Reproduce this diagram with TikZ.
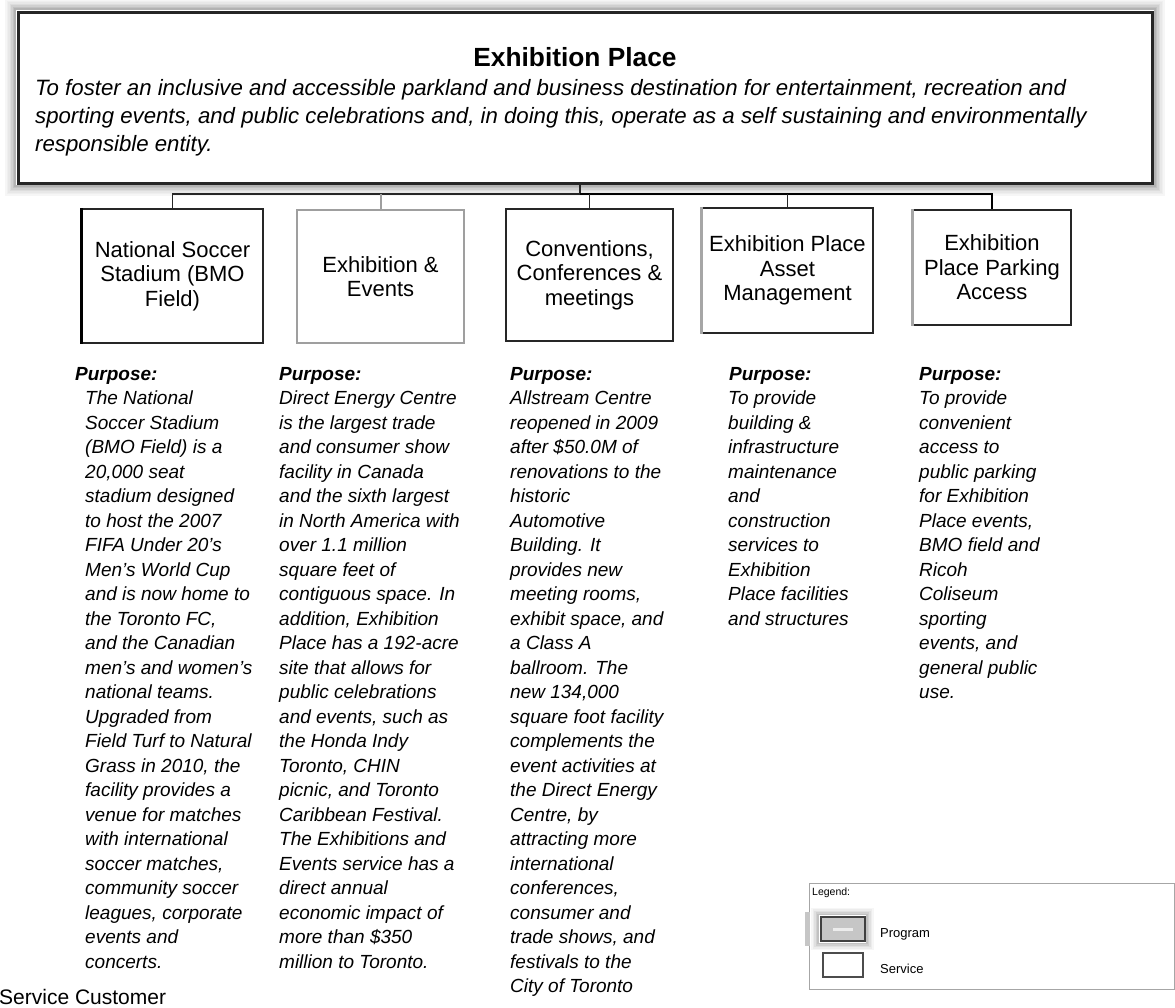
\documentclass[tikz,border=0pt]{standalone}
\usepackage{fontspec}
\setmainfont{Liberation Sans}
\usetikzlibrary{calc}
\newcommand\myfs[2]{\fontsize{#1}{#2}\selectfont}
\tikzset{
 svc/.style={draw=black!85, line width=1.3pt, fill=white, align=center, inner sep=0pt, font=\myfs{22}{24.5}},
 coltext/.style={anchor=north west, inner sep=0pt, align=left, font=\myfs{19}{24.5}\itshape},
 purp/.style={anchor=north west, inner sep=0pt, font=\myfs{19}{24.5}\bfseries\itshape},
 leg/.style={anchor=west, inner sep=0pt, font=\myfs{13}{15}},
 glowline/.style={black!60, line width=1.6pt},
}
\begin{document}
\begin{tikzpicture}[x=1pt,y=-1pt]
\useasboundingbox (0,0) rectangle (1175,1007);
\fill[white] (0,0) rectangle (1175,1007);

% top program box
\node[draw=black!85, line width=3pt, fill=white, minimum width=1134, minimum height=171, inner sep=0pt] (top) at (585,97.5) {};
\foreach \d/\o in {1.5/0.5,3/0.4,4.5/0.3,6/0.22,7.5/0.15,9/0.1,10.5/0.06}
  \draw[glowline, opacity=\o] ($(top.north west)+(-\d,-\d)$) rectangle ($(top.south east)+(\d,\d)$);
\node[anchor=base, inner sep=0pt, font=\myfs{26.3}{30}\bfseries] (title) at (575,66) {Exhibition Place};
\node[anchor=north west, inner sep=0pt, align=left, font=\myfs{22.2}{28}\itshape] (mission) at (35,79)
 {To foster an inclusive and accessible parkland and business destination for entertainment, recreation and\\
  sporting events, and public celebrations and, in doing this, operate as a self sustaining and environmentally\\
  responsible entity.};

% service boxes
\node[svc, minimum width=181, minimum height=134] (b1) at (172.5,276) {National Soccer\\Stadium (BMO\\Field)};
\node[svc, draw=gray!75, line width=2pt, minimum width=167, minimum height=133] (b2) at (380.5,276.5) {Exhibition \&\\Events};
\node[svc, minimum width=167, minimum height=132] (b3) at (589.5,275) {Conventions,\\Conferences \&\\meetings};
\node[svc, minimum width=171, minimum height=125] (b4) at (787.5,270.5) {Exhibition Place\\Asset\\Management};
\node[svc, minimum width=158, minimum height=115] (b5) at (992,267.5) {Exhibition\\Place Parking\\Access};
\draw[black, line width=3pt] (b1.north west) -- (b1.south west);
\draw[gray!70, line width=2.5pt] (b4.north west) -- (b4.south west);
\draw[gray!70, line width=3pt] (b5.north west) -- (b5.south west);

% connectors
\coordinate (j) at (580,194);
\draw[black!85, line width=1.4pt] (j |- top.south) -- (j);
\draw[black!85, line width=1.4pt] (j) -- (j -| b1.north) -- (b1.north);
\draw[black, line width=2.8pt] (j) -- (j -| b5.north) -- (b5.north);
\draw[gray!75, line width=2pt] (j -| b2.north) -- (b2.north);
\draw[black!85, line width=1.4pt] (j -| b3.north) -- (b3.north);
\draw[black!85, line width=1.4pt] (j -| b4.north) -- (b4.north);

% purpose columns
\node[purp] (p1) at (75,367.5) {Purpose:};
\node[coltext] (c1) at (85,391) {The National\\Soccer Stadium\\(BMO Field) is a\\20,000 seat\\stadium designed\\to host the 2007\\FIFA Under 20’s\\Men’s World Cup\\and is now home to\\the Toronto FC,\\and the Canadian\\men’s and women’s\\national teams.\\Upgraded from\\Field Turf to Natural\\Grass in 2010, the\\facility provides a\\venue for matches\\with international\\soccer matches,\\community soccer\\leagues, corporate\\events and\\concerts.};
\node[purp] (p2) at (279,367.5) {Purpose:};
\node[coltext] (c2) at (279,391) {Direct Energy Centre\\is the largest trade\\and consumer show\\facility in Canada\\and the sixth largest\\in North America with\\over 1.1 million\\square feet of\\contiguous space.  In\\addition, Exhibition\\Place has a 192-acre\\site that allows for\\public celebrations\\and events, such as\\the Honda Indy\\Toronto, CHIN\\picnic, and Toronto\\Caribbean Festival.\\The Exhibitions and\\Events service has a\\direct annual\\economic impact of\\more than \$350\\million to Toronto.};
\node[purp] (p3) at (510,367.5) {Purpose:};
\node[coltext] (c3) at (510,391) {Allstream Centre\\reopened in 2009\\after \$50.0M of\\renovations to the\\historic\\Automotive\\Building.  It\\provides new\\meeting rooms,\\exhibit space, and\\a Class A\\ballroom.  The\\new 134,000\\square foot facility\\complements the\\event activities at\\the Direct Energy\\Centre, by\\attracting more\\international\\conferences,\\consumer and\\trade shows, and\\festivals to the\\City of Toronto};
\node[purp] (p4) at (729,367.5) {Purpose:};
\node[coltext] (c4) at (728,391) {To provide\\building \&\\infrastructure\\maintenance\\and\\construction\\services to\\Exhibition\\Place facilities\\and structures};
\node[purp] (p5) at (919,367.5) {Purpose:};
\node[coltext] (c5) at (919,391) {To provide\\convenient\\access to\\public parking\\for Exhibition\\Place events,\\BMO field and\\Ricoh\\Coliseum\\sporting\\events, and\\general public\\use.};

% footer text
\node[anchor=base west, inner sep=0pt, font=\myfs{21}{24}] (cust) at (-1,1004) {Service Customer};

% legend
\node[draw=gray!70, line width=1pt, minimum width=365, minimum height=106, inner sep=0pt] (legend) at (991.5,936) {};
\node[anchor=west, inner sep=0pt, font=\myfs{10.5}{12}] (legtitle) at (812,893) {Legend:};
\fill[gray!45] (805,912) rectangle (810,946);
\node[draw=black!75, line width=2pt, fill=gray!45, minimum width=44, minimum height=24, inner sep=0pt] (sp) at (842.5,929) {};
\fill[gray!15] ($(sp.center)+(-10,-1.5)$) rectangle ($(sp.center)+(10,1.5)$);
\foreach \d/\o in {1.5/0.4,3/0.3,4.5/0.2,6/0.12,7.5/0.06}
  \draw[glowline, opacity=\o] ($(sp.north west)+(-\d,-\d)$) rectangle ($(sp.south east)+(\d,\d)$);
\node[draw=black!70, line width=1.4pt, fill=white, minimum width=40, minimum height=24, inner sep=0pt] (ss) at (843,965) {};
\node[leg] (legprog) at (880,934) {Program};
\node[leg] (legserv) at (880,969) {Service};
\end{tikzpicture}
\end{document}
